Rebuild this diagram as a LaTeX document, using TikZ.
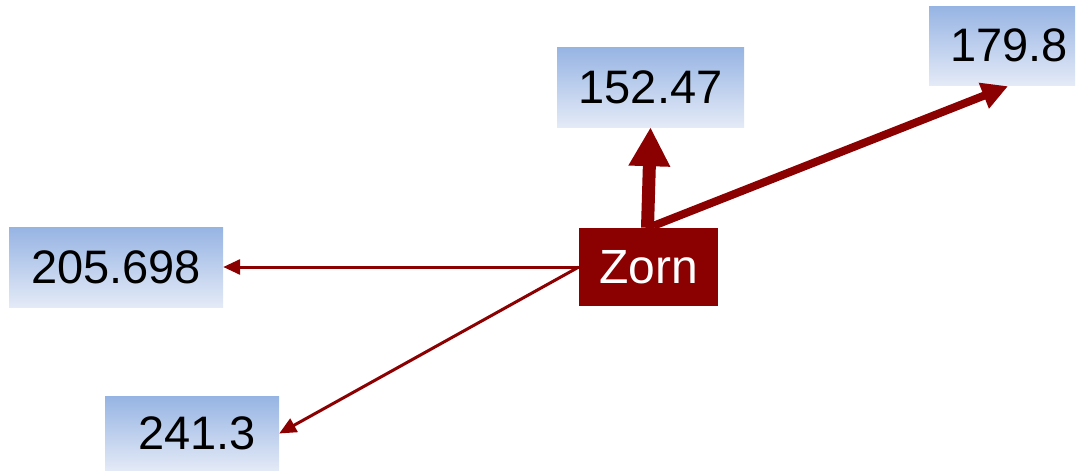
\documentclass[tikz,border=0pt]{standalone}
\usepackage{fontspec}
\setmainfont{Liberation Sans}
\usetikzlibrary{arrows.meta}
\definecolor{zred}{RGB}{139,0,0}
\definecolor{btop}{RGB}{150,180,227}
\definecolor{bbot}{RGB}{228,234,247}
\tikzset{
  valbox/.style={rectangle, inner sep=0pt, top color=btop, bottom color=bbot, draw=none,
    font=\fontsize{47}{51}\selectfont, text=black},
  zornbox/.style={rectangle, inner sep=0pt, fill=zred, draw=none,
    font=\fontsize{48}{52}\selectfont, text=white},
  conn/.style={draw=zred, fill=zred},
}
\begin{document}
\begin{tikzpicture}[x=1pt,y=-1pt]
\useasboundingbox (0,0) rectangle (1079,471);
\begin{scope}
\clip (0,0) rectangle (1079,471);
\node[zornbox, minimum width=139pt, minimum height=78pt] (zorn) at (648.5,267) {Zorn};
\node[valbox, minimum width=187pt, minimum height=80pt] (n1) at (650.5,87) {152.47};
\node[valbox, minimum width=146pt, minimum height=79pt] (n2) at (1002,45.5) {\hspace*{14pt}179.8};
\node[valbox, minimum width=214pt, minimum height=80pt] (n3) at (116,267) {205.698};
\node[valbox, minimum width=174pt, minimum height=75pt] (n4) at (192,433.5) {\hspace*{10pt}241.3};
\end{scope}
\draw[conn, line width=13pt, -{Triangle[length=39pt,width=39pt]}] ([xshift=-1pt]zorn.north) -- (n1.south);
\draw[conn, line width=8pt, -{Triangle[length=26pt,width=26pt]}] ([xshift=5pt,yshift=2pt]zorn.north) -- ([xshift=6pt,yshift=-1pt]n2.south);
\draw[conn, line width=3pt, -{Triangle[length=17pt,width=15pt]}] (zorn.west) -- (n3.east);
\draw[conn, line width=3pt, -{Triangle[length=17pt,width=15pt]}] (zorn.west) -- (n4.east);
\end{tikzpicture}
\end{document}
